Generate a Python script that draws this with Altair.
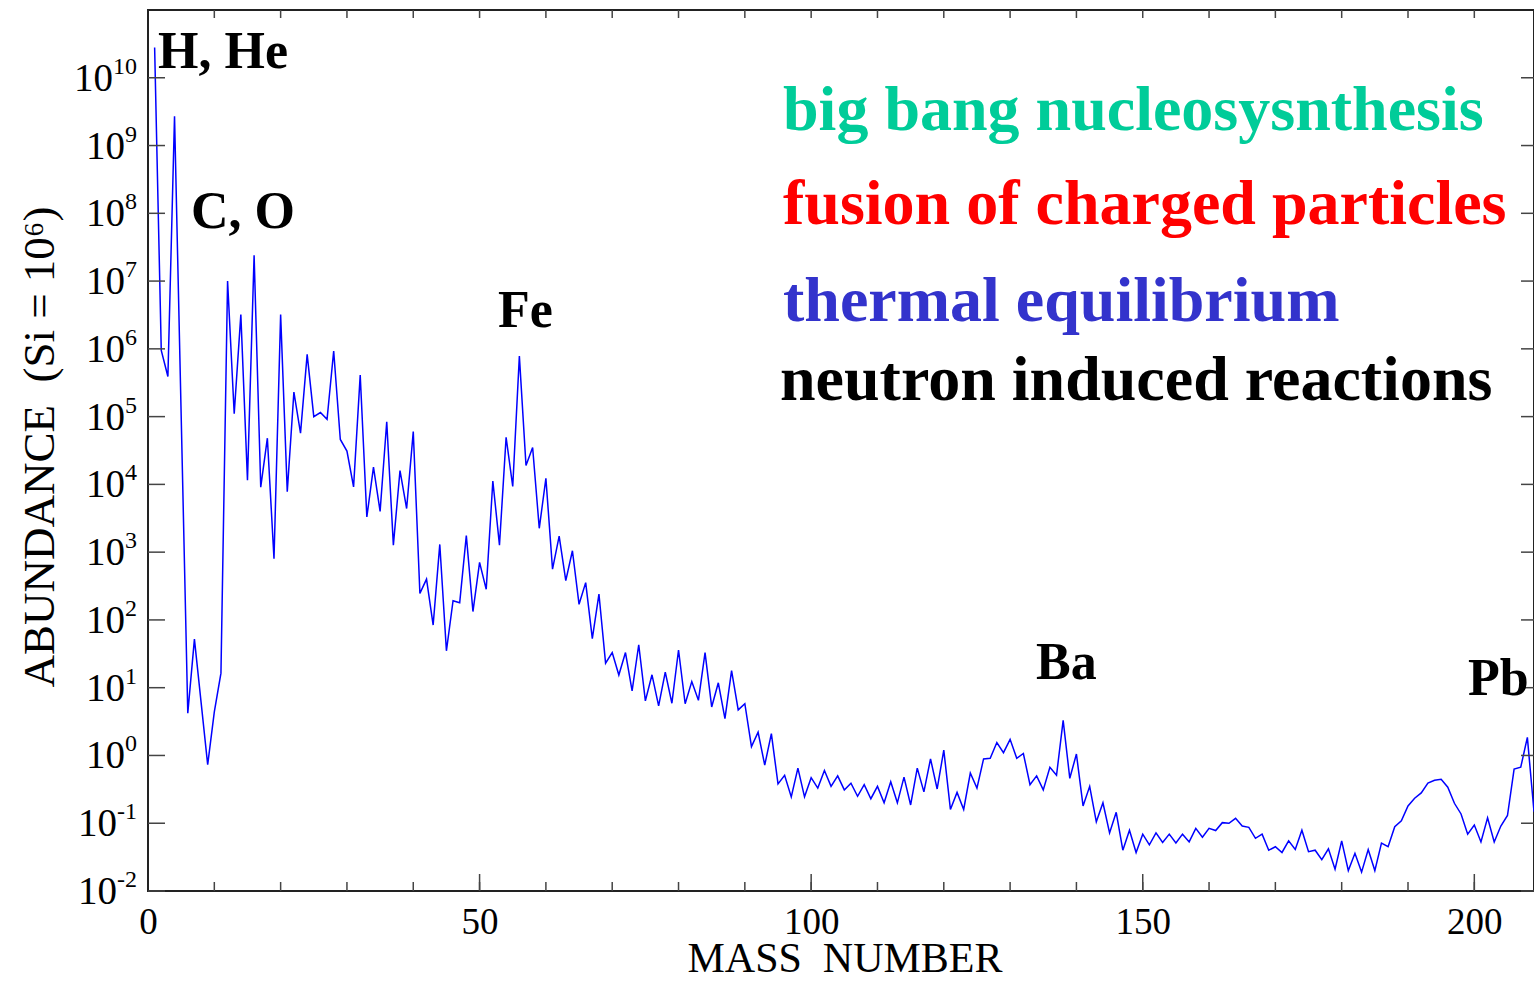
import altair as alt
import pandas as pd

# ---- data ----
mass = [1, 2, 3, 4, 6, 7, 9, 10, 11, 12, 13, 14, 15, 16, 17, 18, 19, 20,
        21, 22, 23, 24, 25, 26, 27, 28, 29, 30, 31, 32, 33, 34, 35, 36, 37, 38, 39, 40,
        41, 42, 43, 44, 45, 46, 47, 48, 49, 50, 51, 52, 53, 54, 55, 56, 57, 58, 59, 60,
        61, 62, 63, 64, 65, 66, 67, 68, 69, 70, 71, 72, 73, 74, 75, 76, 77, 78, 79, 80,
        81, 82, 83, 84, 85, 86, 87, 88, 89, 90, 91, 92, 93, 94, 95, 96, 97, 98, 99, 100,
        101, 102, 103, 104, 105, 106, 107, 108, 109, 110, 111, 112, 113, 114, 115, 116, 117, 118, 119, 120,
        121, 122, 123, 124, 125, 126, 127, 128, 129, 130, 131, 132, 133, 134, 135, 136, 137, 138, 139, 140,
        141, 142, 143, 144, 145, 146, 147, 148, 149, 150, 151, 152, 153, 154, 155, 156, 157, 158, 159, 160,
        161, 162, 163, 164, 165, 166, 167, 168, 169, 170, 171, 172, 173, 174, 175, 176, 177, 178, 179, 180,
        181, 182, 183, 184, 185, 186, 187, 188, 189, 190, 191, 192, 193, 194, 195, 196, 197, 198, 199, 200,
        201, 202, 203, 204, 205, 206, 207, 208, 209]

abundance = [2.8e10, 9.5e5, 3.9e5, 2.7e9, 4.2, 52, 0.73, 4.4, 16.4, 1.0e7,
             1.1e5, 3.2e6, 1.15e4, 2.4e7, 9.1e3, 4.8e4, 800, 3.2e6,
             7.8e3, 2.3e5, 5.7e4, 8.3e5, 1.0e5, 1.15e5, 9.1e4, 9.3e5, 4.6e4, 3.1e4,
             9.2e3, 4.1e5, 3.3e3, 1.8e4, 4.0e3, 8.4e4, 1.27e3, 1.6e4, 4.4e3, 6.0e4,
             246, 400, 84, 1.3e3, 35, 192, 179, 1750, 133, 707,
             283, 1.12e4, 1.27e3, 4.96e4, 9.3e3, 7.8e5, 1.9e4, 3.5e4, 2.25e3, 1.23e4,
             560, 1730, 380, 1050, 170, 355, 53, 241, 23, 33,
             15.4, 33, 9.0, 43, 6.4, 15.5, 5.4, 17, 5.9, 36,
             5.8, 12.3, 6.5, 33, 5.2, 11.8, 3.5, 17.8, 4.7, 5.8,
             1.35, 2.2, 0.72, 2.1, 0.38, 0.51, 0.245, 0.65, 0.245, 0.47,
             0.33, 0.6, 0.35, 0.5, 0.31, 0.39, 0.25, 0.37, 0.23, 0.35,
             0.2, 0.41, 0.2, 0.48, 0.186, 0.65, 0.29, 0.89, 0.32, 1.2,
             0.16, 0.285, 0.16, 0.55, 0.33, 0.89, 0.91, 1.55, 1.1, 1.73,
             0.91, 1.07, 0.37, 0.5, 0.31, 0.67, 0.51, 3.3, 0.46, 1.05,
             0.18, 0.35, 0.105, 0.2, 0.072, 0.145, 0.04, 0.079, 0.037, 0.069,
             0.048, 0.072, 0.052, 0.069, 0.051, 0.069, 0.053, 0.084, 0.062, 0.084,
             0.078, 0.102, 0.1, 0.118, 0.091, 0.087, 0.06, 0.069, 0.04, 0.045,
             0.037, 0.055, 0.041, 0.079, 0.038, 0.04, 0.029, 0.042, 0.021, 0.055,
             0.02, 0.036, 0.019, 0.041, 0.02, 0.051, 0.045, 0.089, 0.109, 0.18,
             0.234, 0.28, 0.39, 0.43, 0.445, 0.34, 0.197, 0.137, 0.069, 0.094,
             0.053, 0.12, 0.053, 0.091, 0.13, 0.63, 0.67, 1.85, 0.148]

decades = list(range(-2, 11))          # y tick labels 10^-2 ... 10^10
x_label_values = [0, 50, 100, 150, 200]
x_minor_ticks = list(range(10, 210, 10))
x_major_ticks = [50, 100, 150, 200]

element_labels = ["H, He", "C, O", "Fe", "Ba", "Pb"]
process_labels = ["big bang nucleosysnthesis", "fusion of charged particles",
                  "thermal equilibrium", "neutron induced reactions"]
process_colors = ["#00cc99", "#ff0000", "#3333cc", "#000000"]

# ---- layout ----
W, H = 1386, 881
FONT = "Liberation Serif"
TICK_COLOR = "#444444"

xs = alt.Scale(domain=[0, 209], nice=False, zero=False)
ys = alt.Scale(type="log", domain=[1e-2, 1e11], nice=False)

df_line = pd.DataFrame({"A": mass, "abund": abundance})
df_dec = pd.DataFrame({
    "v": [10.0 ** e for e in decades],
    "exp": [str(e) for e in decades],
    "base": ["10"] * len(decades),
    "grp": ["two" if e >= 10 else ("neg" if e < 0 else "one") for e in decades],
})
df_minor = pd.DataFrame({"x": x_minor_ticks})
df_major = pd.DataFrame({"x": x_major_ticks})

line = alt.Chart(df_line).mark_line(color="#0000ff", strokeWidth=1.5, clip=True).encode(
    x=alt.X("A:Q", scale=xs,
            axis=alt.Axis(values=x_label_values, title=None, ticks=False, tickSize=0,
                          domain=False, grid=False, labelFont=FONT, labelFontSize=37,
                          labelColor="black", labelPadding=42, labelBaseline="alphabetic",
                          labelFlush=False)),
    y=alt.Y("abund:Q", scale=ys, axis=None),
)

ytick_left = alt.Chart(df_dec).mark_rule(color=TICK_COLOR, strokeWidth=1.5).encode(
    y=alt.Y("v:Q", scale=ys, axis=None), x=alt.value(0), x2=alt.value(17))
ytick_right = alt.Chart(df_dec).mark_rule(color=TICK_COLOR, strokeWidth=1.5).encode(
    y=alt.Y("v:Q", scale=ys, axis=None), x=alt.value(W - 13), x2=alt.value(W))

xtick_bottom_minor = alt.Chart(df_minor).mark_rule(color=TICK_COLOR, strokeWidth=1.5).encode(
    x=alt.X("x:Q", scale=xs), y=alt.value(H - 9), y2=alt.value(H))
xtick_bottom_major = alt.Chart(df_major).mark_rule(color=TICK_COLOR, strokeWidth=1.5).encode(
    x=alt.X("x:Q", scale=xs), y=alt.value(H - 17), y2=alt.value(H))
xtick_top = alt.Chart(df_minor).mark_rule(color=TICK_COLOR, strokeWidth=1.5).encode(
    x=alt.X("x:Q", scale=xs), y=alt.value(0), y2=alt.value(8))

# y tick labels: "10" + superscript exponent
EXP_SIZE = 24
exp_layer = alt.Chart(df_dec).mark_text(
    align="right", baseline="alphabetic", font=FONT, fontSize=EXP_SIZE, dy=-4, color="black"
).encode(y=alt.Y("v:Q", scale=ys, axis=None), x=alt.value(-11), text="exp:N")

exp_width = {"two": EXP_SIZE * 1.0, "one": EXP_SIZE * 0.5, "neg": EXP_SIZE * 0.833}
base_layers = []
for grp, w in exp_width.items():
    base_layers.append(
        alt.Chart(df_dec).transform_filter(alt.datum.grp == grp).mark_text(
            align="right", baseline="alphabetic", font=FONT, fontSize=39, dy=13, color="black"
        ).encode(y=alt.Y("v:Q", scale=ys, axis=None), x=alt.value(-11 - w), text="base:N")
    )


def label(txt, x, y, size, color="black", bold=True, align="left", angle=0):
    kw = dict(align=align, baseline="alphabetic", font=FONT, fontSize=size,
              fontWeight="bold" if bold else "normal", color=color)
    if angle:
        kw["angle"] = angle
        kw["baseline"] = "middle"
    return alt.Chart(pd.DataFrame({"t": [txt]})).mark_text(**kw).encode(
        x=alt.value(x), y=alt.value(y), text="t:N")


texts = [
    label(element_labels[0], 10, 58, 52),
    label(element_labels[1], 43, 218, 52),
    label(element_labels[2], 350, 317, 52),
    label(element_labels[3], 888, 669, 52),
    label(element_labels[4], 1320, 685, 52),
    label(process_labels[0], 635, 120, 64, process_colors[0]),
    label(process_labels[1], 635, 214, 64, process_colors[1]),
    label(process_labels[2], 635, 311, 64, process_colors[2]),
    label(process_labels[3], 632, 390, 64, process_colors[3]),
    label("MASS\u00a0 NUMBER", 697, 962, 42, bold=False, align="center"),
    label("ABUNDANCE\u00a0 (Si = 10\u2076)", -108, 437, 45, bold=False, align="center", angle=270),
]

chart = alt.layer(
    line, ytick_left, ytick_right, xtick_bottom_minor, xtick_bottom_major, xtick_top,
    exp_layer, *base_layers, *texts
).properties(
    width=W, height=H,
    padding={"left": 148, "top": 10, "right": 0, "bottom": 90},
    autosize=alt.AutoSizeParams(type="none"),
    background="white",
).configure_view(stroke="#222222", strokeWidth=2)

chart.save("out.html", embed_options={"renderer": "svg", "actions": False})
